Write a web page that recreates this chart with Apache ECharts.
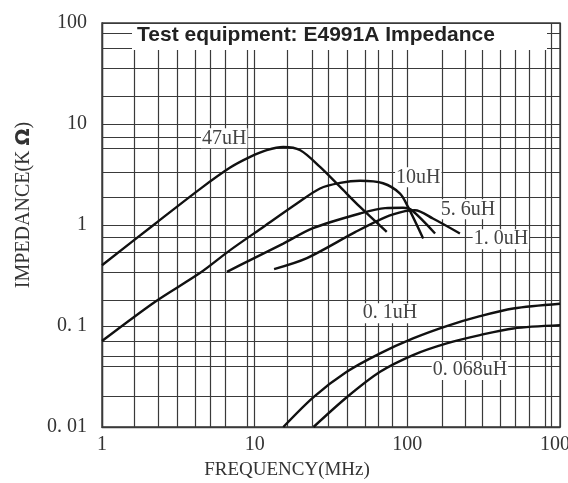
<!DOCTYPE html>
<html>
<head>
<meta charset="utf-8">
<script src="https://cdn.jsdelivr.net/npm/echarts@6/dist/echarts.min.js"></script>
<style>
html, body { margin: 0; padding: 0; background: #fff; }
#chart { width: 568px; height: 483px; }
</style>
</head>
<body>
<div id="chart"></div>
<script>
// impedance curves, [frequency MHz, impedance kOhm]
const curve47uH = [[1, 0.40], [2.23, 1.03], [4.4, 2.28], [6.91, 3.7], [9.34, 4.72], [12, 5.5], [15.4, 5.92], [19.9, 5.5], [26.8, 3.76], [36.3, 2.38], [49, 1.51], [73.3, 0.855]]
const curve10uH = [[1, 0.071], [2.23, 0.174], [4.4, 0.336], [6.91, 0.564], [11.4, 0.957], [18.9, 1.63], [26.8, 2.3], [36.3, 2.61], [49, 2.74], [69.3, 2.59], [89.6, 2.05], [101, 1.51], [127, 0.735]]
const curve5p6uH = [[6.58, 0.344], [9.34, 0.449], [15.4, 0.655], [24.1, 0.93], [49, 1.3], [71.5, 1.47], [93.7, 1.48], [107, 1.4], [152, 0.824]]
const curve1p0uH = [[13.4, 0.366], [22, 0.47], [45.5, 0.849], [71.5, 1.19], [96.6, 1.37], [112, 1.4], [147, 1.16], [221, 0.824]]
const curve0p1uH = [[15.4, 0.01], [24.3, 0.0198], [40.1, 0.0352], [66.3, 0.0536], [109, 0.0754], [181, 0.0998], [299, 0.125], [494, 0.149], [1000, 0.166]]
const curve0p068uH = [[24.3, 0.01], [40.3, 0.0198], [66.3, 0.0352], [109, 0.0516], [181, 0.0673], [299, 0.0813], [494, 0.0946], [1000, 0.102]]

const xTickLabels = ["1", "10", "100", "1000"]
const yTickLabels = ["0. 01", "0. 1", "1", "10", "100"]

// the printed grid is not exactly 2..9 per decade, so the lines follow the picture
const xMinorGrid = [1.63, 2.34, 3.11, 4.08, 5.12, 6.41, 8.93, 16.3, 23.8, 30.3, 40.3, 52.8, 64.3, 79.3, 169, 239, 309, 404, 507, 626, 796, 871]
const yMinorGrid = [0.0188, 0.035, 0.054, 0.075, 0.183, 0.336, 0.535, 0.763, 1.9, 3.35, 5.7, 7.44, 18.8, 35.3, 56.5, 78.4]

const gridColor = "#3a3a3a"
const serif = "Liberation Serif"

const curves = [
	{ name: "47uH", data: curve47uH, tag: [6.32, 7.22] },
	{ name: "10uH", data: curve10uH, tag: [118, 2.97] },
	{ name: "5. 6uH", data: curve5p6uH, tag: [250, 1.43] },
	{ name: "1. 0uH", data: curve1p0uH, tag: [410, 0.724] },
	{ name: "0. 1uH", data: curve0p1uH, tag: [77, 0.134] },
	{ name: "0. 068uH", data: curve0p068uH, tag: [257, 0.0366] },
]

const chart = echarts.init(document.getElementById("chart"))

const gridSeries = {
	type: "line",
	data: [],
	silent: true,
	markLine: {
		z: 1,
		silent: true,
		symbol: ["none", "none"],
		label: { show: false },
		lineStyle: { color: gridColor, width: 1.2, type: "solid" },
		emphasis: { disabled: true },
		data: [
			...xMinorGrid.map(v => ({ xAxis: v })),
			...yMinorGrid.map(v => ({ yAxis: v })),
		],
	},
}

const curveSeries = curves.map(c => ({
	name: c.name,
	type: "line",
	data: c.data,
	smooth: 0.3,
	showSymbol: false,
	z: 3,
	lineStyle: { color: "#111", width: 2.4 },
	markPoint: {
		z: 10,
		silent: true,
		symbol: "circle",
		symbolSize: 1,
		itemStyle: { color: "rgba(0,0,0,0)" },
		label: {
			show: true,
			position: "inside",
			formatter: c.name,
			color: "#444",
			fontFamily: serif,
			fontSize: 20,
			backgroundColor: "#fff",
			padding: [0, 1],
		},
		data: [{ coord: c.tag }],
	},
}))

chart.setOption({
	animation: false,
	backgroundColor: "#fff",
	grid: {
		left: 102,
		right: 8,
		top: 23,
		bottom: 56,
		outerBoundsMode: "none",
		containLabel: false,
		show: true,
		borderColor: gridColor,
		borderWidth: 1.4,
	},
	xAxis: {
		type: "log",
		logBase: 10,
		min: 1,
		max: 1000,
		axisLine: { show: true, lineStyle: { color: gridColor, width: 1.4 } },
		axisTick: { show: false },
		splitLine: { show: true, lineStyle: { color: gridColor, width: 1.2 } },
		axisLabel: {
			margin: 8,
			color: "#333",
			fontFamily: serif,
			fontSize: 20,
			formatter: v => xTickLabels[Math.round(Math.log10(v))],
		},
	},
	yAxis: {
		type: "log",
		logBase: 10,
		min: 0.01,
		max: 100,
		axisLine: { show: true, lineStyle: { color: gridColor, width: 1.4 } },
		axisTick: { show: false },
		splitLine: { show: true, lineStyle: { color: gridColor, width: 1.2 } },
		axisLabel: {
			margin: 15,
			color: "#333",
			fontFamily: serif,
			fontSize: 20,
			formatter: v => yTickLabels[Math.round(Math.log10(v)) + 2],
		},
	},
	graphic: [
		{
			type: "rect",
			z: 100,
			shape: { x: 132, y: 24, width: 415, height: 26 },
			style: { fill: "#fff" },
		},
		{
			type: "text",
			z: 101,
			x: 137,
			y: 35,
			style: {
				text: "Test equipment: E4991A Impedance",
				font: 'bold 21px "Liberation Sans"',
				fill: "#222",
				verticalAlign: "middle",
			},
		},
		{
			type: "text",
			z: 101,
			x: 287,
			y: 470,
			style: {
				text: "FREQUENCY(MHz)",
				font: '19px "Liberation Serif"',
				fill: "#333",
				align: "center",
				verticalAlign: "middle",
			},
		},
		{
			type: "text",
			z: 101,
			x: 24,
			y: 205,
			rotation: Math.PI / 2,
			style: {
				text: "IMPEDANCE(K {o|Ω})",
				font: '20px "Liberation Serif"',
				fill: "#333",
				align: "center",
				verticalAlign: "middle",
				rich: {
					o: { fontFamily: "DejaVu Sans", fontWeight: "bold", fontSize: 20, fill: "#333" },
				},
			},
		},
	],
	series: [gridSeries, ...curveSeries],
})
</script>
</body>
</html>
